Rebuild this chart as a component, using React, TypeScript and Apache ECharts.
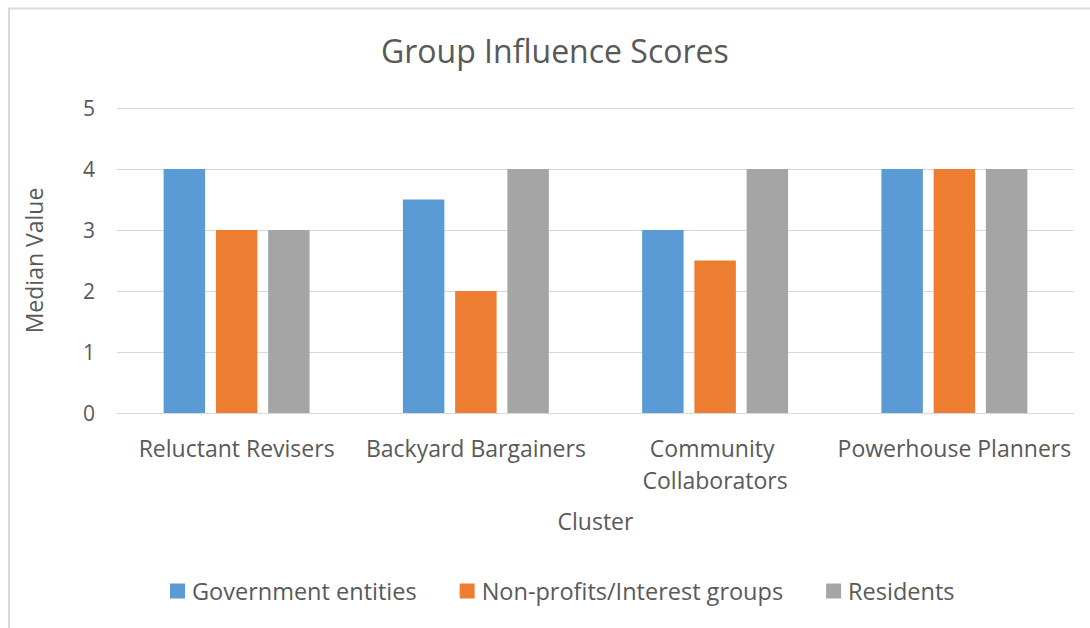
import React, { useEffect, useRef } from "react";
import * as echarts from "echarts";

const categories = ["Reluctant Revisers", "Backyard Bargainers", "Community Collaborators", "Powerhouse Planners"];
const government = [4, 3.5, 3, 4];
const nonprofits = [3, 2, 2.5, 4];
const residents = [3, 4, 4, 4];
const seriesNames = ["Government entities", "Non-profits/Interest groups", "Residents"];
const colors = ["#5b9bd5", "#ed7d31", "#a5a5a5"];

const FONT = "'Open Sans', sans-serif";
const TXT = "#595959";

export default function App() {
  const ref = useRef<HTMLDivElement>(null);
  useEffect(() => {
    if (!ref.current) return;
    const chart = echarts.init(ref.current, null, { renderer: "svg" });
    chart.setOption({
      animation: false,
      textStyle: { fontFamily: FONT, color: TXT },
      title: {
        text: "Group Influence Scores",
        left: 376,
        top: 29,
        textStyle: { fontFamily: FONT, fontSize: 32, fontWeight: "normal", color: TXT },
      },
      graphic: [
        {
          type: "rect",
          shape: { x: 9, y: 8.5, width: 1200, height: 800 },
          style: { fill: "none", stroke: "#d9d9d9", lineWidth: 2 },
          silent: true,
        },
      ],
      grid: { left: 117, right: 16, top: 108, bottom: 215, containLabel: false },
      legend: {
        bottom: 20,
        left: 165,
        itemWidth: 15,
        itemHeight: 15,
        itemGap: 43,
        icon: "rect",
        textStyle: { fontFamily: FONT, fontSize: 23.5, color: TXT, padding: [0, 0, 0, 2] },
        data: seriesNames,
      },
      xAxis: {
        type: "category",
        data: categories,
        name: "Cluster",
        nameLocation: "middle",
        nameGap: 96,
        nameTextStyle: { fontFamily: FONT, fontSize: 23, color: TXT },
        axisLine: { lineStyle: { color: "#d9d9d9" } },
        axisTick: { show: false },
        axisLabel: {
          fontFamily: FONT,
          fontSize: 23,
          color: TXT,
          margin: 19,
          lineHeight: 32,
          width: 238,
          overflow: "break",
          interval: 0,
        },
      },
      yAxis: {
        type: "value",
        min: 0,
        max: 5,
        interval: 1,
        name: "Median Value",
        nameLocation: "middle",
        nameGap: 72,
        nameTextStyle: { fontFamily: FONT, fontSize: 23, color: TXT },
        axisLine: { show: false },
        axisTick: { show: false },
        axisLabel: { fontFamily: FONT, fontSize: 21, color: TXT, margin: 22 },
        splitLine: { lineStyle: { color: "#d9d9d9", width: 1 } },
      },
      series: [government, nonprofits, residents].map((d, i) => ({
        name: seriesNames[i],
        type: "bar",
        data: d,
        itemStyle: { color: colors[i] },
        barGap: "26%",
        barCategoryGap: "39%",
      })),
    });
    return () => chart.dispose();
  }, []);
  return (
    <div
      ref={ref}
      style={{ position: "fixed", left: 0, top: 0, width: 1090, height: 628, background: "#fff" }}
    />
  );
}
